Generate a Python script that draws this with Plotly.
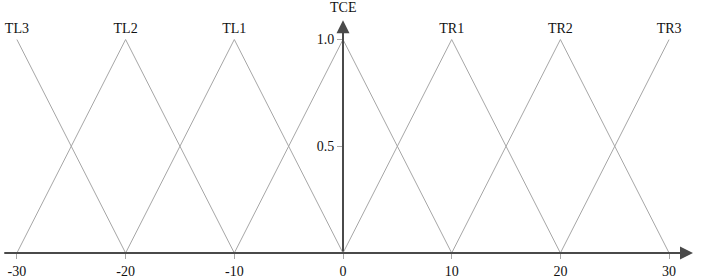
import plotly.graph_objects as go

# Membership function breakpoints (beta values) and degrees
set_labels = ["TL3", "TL2", "TL1", "TCE", "TR1", "TR2", "TR3"]
set_peaks = [-30, -20, -10, 0, 10, 20, 30]
mf_x = [
    [-30, -20],
    [-30, -20, -10],
    [-20, -10, 0],
    [-10, 0, 10],
    [0, 10, 20],
    [10, 20, 30],
    [20, 30],
]
mf_y = [
    [1, 0],
    [0, 1, 0],
    [0, 1, 0],
    [0, 1, 0],
    [0, 1, 0],
    [0, 1, 0],
    [0, 1],
]
x_ticks = [-30, -20, -10, 0, 10, 20, 30]
x_tick_text = ["-30", "-20", "-10", "0", "10", "20", "30"]
y_ticks = [0.5, 1.0]
y_tick_text = ["0.5", "1.0"]

PX_PER = 10.87
X0_PX = 343
W = 708
R = 8
x_min = -X0_PX / PX_PER
x_max = (W - R - X0_PX) / PX_PER
y_max = 256 / 216

font = "Liberation Serif"
fig = go.Figure()
for xs, ys in zip(mf_x, mf_y):
    fig.add_trace(go.Scatter(x=xs, y=ys, mode="lines",
                             line=dict(color="#a6a6a6", width=1),
                             hoverinfo="skip", showlegend=False))

# peak labels (except TCE, which labels the vertical axis)
lab_x = [p for p, l in zip(set_peaks, set_labels) if l != "TCE"]
lab_t = [l for l in set_labels if l != "TCE"]
fig.add_trace(go.Scatter(x=lab_x, y=[1.046] * len(lab_x), mode="text", text=lab_t,
                         textposition="middle center",
                         textfont=dict(family=font, size=14, color="#111"),
                         cliponaxis=False, showlegend=False, hoverinfo="skip"))

# axis arrows
fig.add_annotation(x=32.2, y=0, ax=-31.3, ay=0, xref="x", yref="y", axref="x", ayref="y",
                   text="", showarrow=True, arrowhead=2, arrowsize=1.3, arrowwidth=2,
                   arrowcolor="#4a4a4a", standoff=0, startstandoff=0)
fig.add_annotation(x=0, y=1.09, ax=0, ay=0, xref="x", yref="y", axref="x", ayref="y",
                   text="", showarrow=True, arrowhead=2, arrowsize=1.3, arrowwidth=2,
                   arrowcolor="#4a4a4a", standoff=0, startstandoff=0)
fig.add_annotation(x=0, y=1.148, xref="x", yref="y", text="TCE", showarrow=False,
                   font=dict(family=font, size=14, color="#111"))
fig.add_annotation(x=32.57, y=-0.051, xref="x", yref="y", text="β", showarrow=False,
                   font=dict(family=font, size=15, color="#111"))

pos = (0 - x_min) / (x_max - x_min)
fig.update_layout(
    width=708, height=279,
    margin=dict(l=0, r=R, t=0, b=23),
    paper_bgcolor="white", plot_bgcolor="white",
    xaxis=dict(range=[x_min, x_max], tickvals=x_ticks, ticktext=x_tick_text,
               ticks="outside", ticklen=5,
               tickcolor="#a6a6a6", showgrid=False, zeroline=False, showline=False,
               tickfont=dict(family=font, size=14, color="#111")),
    yaxis=dict(range=[0, y_max], tickvals=y_ticks, ticktext=y_tick_text,
               anchor="free", position=pos, ticks="outside", ticklen=6,
               tickcolor="#a6a6a6", showgrid=False, zeroline=False, showline=False,
               tickfont=dict(family=font, size=14, color="#111")),
)
fig.write_html("out.html", config={"displayModeBar": False},
               post_script="document.body.style.margin='0';document.body.style.overflow='hidden';")
